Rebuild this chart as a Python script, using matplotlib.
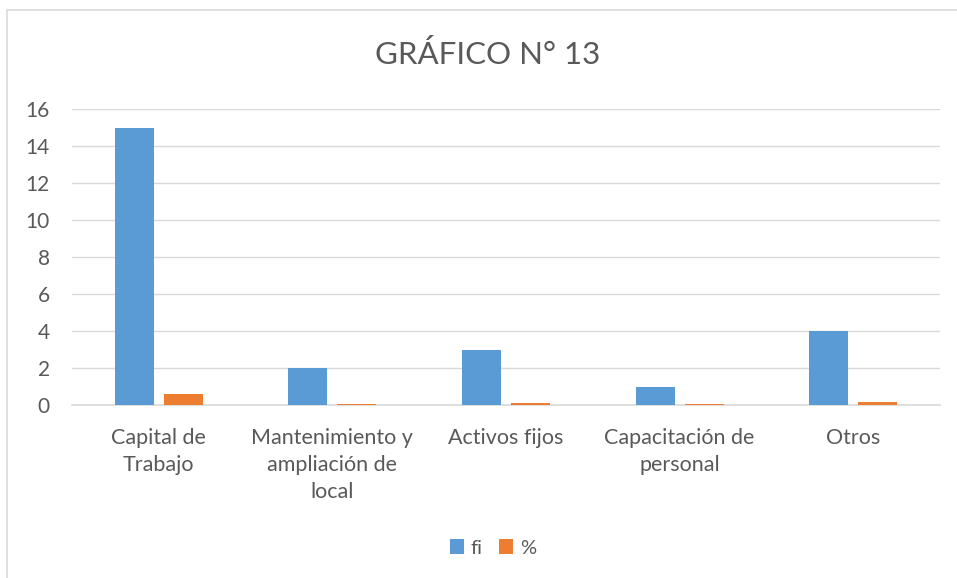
import matplotlib
matplotlib.use("Agg")
import matplotlib.pyplot as plt
import numpy as np
from matplotlib.patches import Rectangle

categories = ["Capital de\nTrabajo", "Mantenimiento y\nampliación de\nlocal", "Activos fijos",
              "Capacitación de\npersonal", "Otros"]
fi = [15, 2, 3, 1, 4]
pct = [0.60, 0.08, 0.12, 0.04, 0.16]
yticks = [0, 2, 4, 6, 8, 10, 12, 14, 16]

plt.rcParams['font.family'] = ['Lato', 'DejaVu Sans']
TXT = '#595959'
BLUE = '#5B9BD5'
ORANGE = '#ED7D31'

W, H = 957, 578
fig = plt.figure(figsize=(W/100, H/100), dpi=100)
fig.patches.append(Rectangle((7/W, -0.05), 1.2, (H-10)/H + 0.05, transform=fig.transFigure,
                             fill=False, edgecolor='#D9D9D9', linewidth=1.2))

left, right, top, bottom = 72, 940, 109, 405
ax = fig.add_axes([left/W, 1-bottom/H, (right-left)/W, (bottom-top)/H])
x = np.arange(len(categories))
bw = 0.225
off = 0.141
ax.bar(x - off, fi, bw, color=BLUE, label='fi', zorder=3)
ax.bar(x + off, pct, bw, color=ORANGE, label='%', zorder=3)
ax.set_xlim(-0.5, len(categories) - 0.5)
ax.set_ylim(0, 16)
ax.set_yticks(yticks)
ax.yaxis.grid(True, color='#D9D9D9', linewidth=1)
ax.set_axisbelow(True)
for s in ['top', 'right', 'left']:
    ax.spines[s].set_visible(False)
ax.spines['bottom'].set_color('#D9D9D9')
ax.spines['bottom'].set_linewidth(1.2)
ax.tick_params(axis='both', length=0, colors=TXT, labelsize=15)
ax.tick_params(axis='y', pad=16)
ax.tick_params(axis='x', pad=16.5)
ax.set_xticks(x)
ax.set_xticklabels(categories, linespacing=1.45, va='top', fontsize=15.5)

fig.text(488/W, 1-55/H, "GRÁFICO N° 13", ha='center', va='center', fontsize=22.5, color=TXT)

leg = fig.legend(loc='center', bbox_to_anchor=(493/W, 1-548/H), ncol=2, frameon=False,
                 fontsize=14.5, handlelength=0.7, handleheight=0.7, handletextpad=0.35,
                 columnspacing=0.8)
for t in leg.get_texts():
    t.set_color(TXT)

fig.savefig("out.png", dpi=100)
